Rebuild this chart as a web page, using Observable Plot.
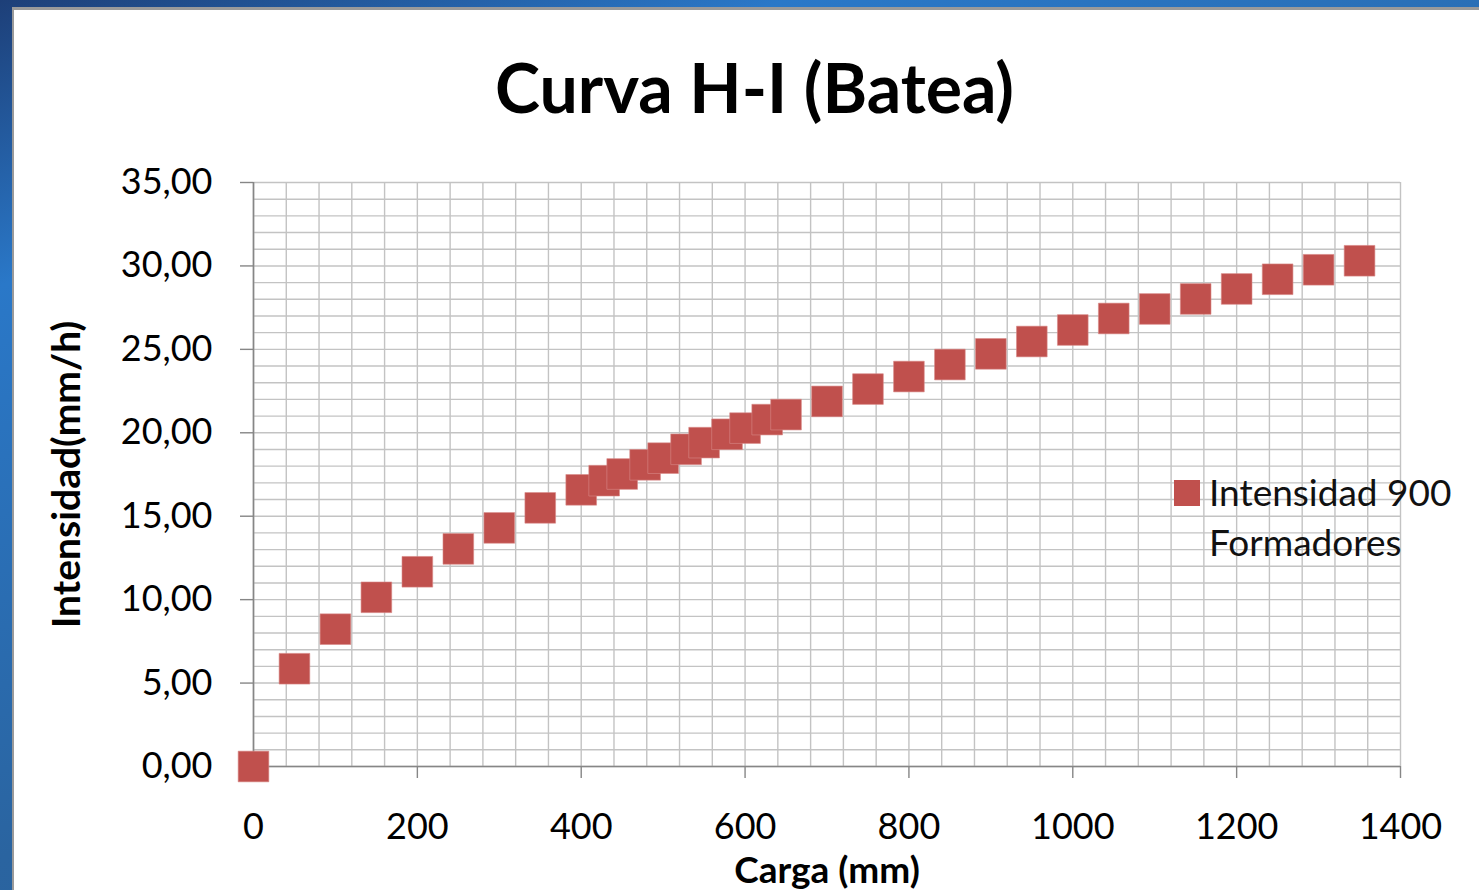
<!DOCTYPE html>
<html>
<head>
<meta charset="utf-8">
<script src="https://cdn.jsdelivr.net/npm/d3@7"></script>
<script src="https://cdn.jsdelivr.net/npm/@observablehq/plot@0.6"></script>
<style>
  html, body { margin: 0; padding: 0; }
  body {
    width: 1479px; height: 890px; overflow: hidden; position: relative;
    background: linear-gradient(160deg, #1d3f78 0%, #2a78c8 20%, #2a64a0 60%, #2a5f98 100%);
    font-family: Lato, "Open Sans", sans-serif;
  }
  #panel {
    position: absolute; left: 12px; top: 7px; right: 0; bottom: 0;
    background: #ffffff;
    border-left: 2px solid #9a9a9a; border-top: 3px solid #9a9a9a;
  }
  #title {
    position: absolute; left: 30px; top: 47px; width: 1449px; text-align: center;
    font-size: 68px; font-weight: 700; color: #000; line-height: 80px;
  }
  #chart { position: absolute; left: 0; top: 140px; }
  #legend {
    position: absolute; left: 1174px; top: 467px;
    font-size: 37px; line-height: 50px; color: #111;
  }
  #legend .sw {
    position: absolute; left: 0; top: 13px; width: 26px; height: 26px; background: #c0504d;
  }
  #legend .tx { margin-left: 35px; white-space: nowrap; }
</style>
</head>
<body>
<div id="panel"></div>
<div id="title">Curva H-I (Batea)</div>
<div id="chart"></div>
<div id="legend"><div class="sw"></div><div class="tx">Intensidad 900<br>Formadores</div></div>
<script>
// Carga (mm)
const carga = [0, 50, 100, 150, 200, 250, 300, 350, 400, 428, 450, 478, 500, 528, 550, 578, 600, 627, 650,
  700, 750, 800, 850, 900, 950, 1000, 1050, 1100, 1150, 1200, 1250, 1300, 1350];
// Intensidad (mm/h)
const intensidad = [0, 5.86, 8.23, 10.14, 11.67, 13.04, 14.3, 15.5, 16.58, 17.13, 17.53, 18.08, 18.48, 19.01,
  19.41, 19.91, 20.28, 20.79, 21.09, 21.88, 22.62, 23.37, 24.09, 24.73, 25.47, 26.16, 26.85, 27.42,
  28.02, 28.62, 29.2, 29.77, 30.31];
const xTicks = [0, 200, 400, 600, 800, 1000, 1200, 1400];
const yTicks = [0, 5, 10, 15, 20, 25, 30, 35];
const seriesName = "Intensidad 900 Formadores";

const data = carga.map((c, i) => ({carga: c, intensidad: intensidad[i], serie: seriesName}));
const fmtY = d => d.toFixed(2).replace(".", ",");
const fmtX = d => String(d);

const plot = Plot.plot({
  width: 1479,
  height: 750,
  marginLeft: 253,
  marginRight: 79,
  marginTop: 42,
  marginBottom: 124,
  style: {fontFamily: "Lato, 'Open Sans', sans-serif", fontSize: "36px", color: "#000", background: "transparent", overflow: "visible"},
  x: {domain: [0, 1400]},
  y: {domain: [0, 35]},
  marks: [
    Plot.gridX(d3.range(0, 1401, 40), {stroke: "#c3c3c3", strokeOpacity: 1, strokeWidth: 1.4}),
    Plot.gridY(d3.range(0, 35.5, 1), {stroke: "#c3c3c3", strokeOpacity: 1, strokeWidth: 1.4}),
    Plot.axisX(xTicks, {tickSize: 12, tickPadding: 35, stroke: "#868686", strokeWidth: 1.4, tickFormat: fmtX,
      label: "Carga (mm)", labelArrow: "none", labelAnchor: "center", labelOffset: 116}),
    Plot.axisY(yTicks, {tickSize: 13, tickPadding: 28, stroke: "#868686", strokeWidth: 1.4,
      tickFormat: fmtY, label: "Intensidad(mm/h)", labelArrow: "none", labelAnchor: "center", labelOffset: 201}),
    Plot.ruleX([0], {stroke: "#868686", strokeWidth: 1.6}),
    Plot.ruleY([0], {stroke: "#868686", strokeWidth: 1.6}),
    Plot.dot(data, {x: "carga", y: "intensidad", symbol: "square", r: 17.3,
      fill: "#c0504d", stroke: "#d98a88", strokeWidth: 0.6})
  ]
});
document.getElementById("chart").appendChild(plot);
// bold, larger axis titles only
plot.querySelectorAll("g[aria-label='x-axis label']")
  .forEach(g => { g.setAttribute("font-weight", "bold"); g.setAttribute("font-size", "37px"); });
plot.querySelectorAll("g[aria-label='y-axis label']")
  .forEach(g => { g.setAttribute("font-weight", "bold"); g.setAttribute("font-size", "39px"); });
</script>
</body>
</html>
